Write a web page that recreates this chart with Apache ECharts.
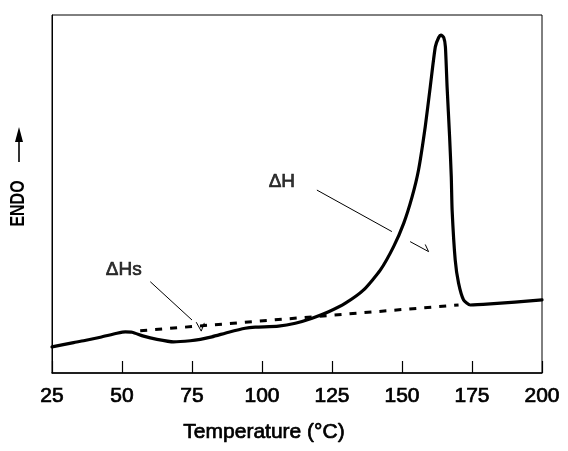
<!DOCTYPE html>
<html>
<head>
<meta charset="utf-8">
<script src="https://cdn.jsdelivr.net/npm/echarts@6/dist/echarts.min.js"></script>
<style>
html, body { margin: 0; padding: 0; background: #fff; }
#chart { width: 568px; height: 451px; }
</style>
</head>
<body>
<div id="chart"></div>
<script>
// Tick labels on the temperature axis
const tempTicks = [25, 50, 75, 100, 125, 150, 175, 200];

// DSC trace (temperature in °C, endothermic signal in arbitrary units)
const temperature = [25, 32.7, 36.3, 42.3, 48.2, 51.2, 53.6, 57.7, 62.5, 68.4, 74.4, 78.0, 82.1, 88.1, 94.0, 97.6, 105.9, 111.9, 117.9, 123.8, 129.8, 136.3, 142.3, 147.0, 150.6, 153.6, 155.9, 158.3, 160.1, 161.9, 163.1, 163.9, 164.9, 165.5, 166.1, 167.0, 167.6, 167.9, 169.0, 170.2, 172.0, 174.4, 181.5, 200];
const endo = [7.3, 8.5, 9.0, 10.0, 11.1, 11.5, 11.4, 10.3, 9.4, 8.7, 9.0, 9.4, 10.1, 11.4, 12.5, 12.8, 13.1, 13.9, 15.3, 17.1, 19.5, 23.2, 28.8, 35.3, 41.8, 49.2, 56.7, 68.8, 80.0, 91.1, 93.7, 94.4, 93.7, 91.1, 80.0, 66.0, 54.8, 45.5, 31.6, 25.1, 20.4, 19.0, 19.3, 20.4];

// Dashed integration baseline
const baselineT = [56.5, 170.2];
const baselineY = [11.8, 19.0];

// Annotation labels and their leader lines (data coordinates)
const labelNames = ['ΔH', 'ΔHs'];
const labelT = [107.1, 50.6];
const labelY = [53.4, 28.8];
const leaderHT = [119.6, 146.4];
const leaderHY = [51.1, 39.5];
const arrowHT = [152.9, 159.5, 158.3];
const arrowHY = [36.7, 33.9, 35.9];
const leaderHsT = [60.1, 75.0];
const leaderHsY = [25.5, 14.8];
const checkHsT = [76.5, 78.3, 79.4];
const checkHsY = [14.2, 11.7, 14.0];

const zip = (a, b) => a.map((v, i) => [v, b[i]]);
const FONT = 'Liberation Sans, Arial, Helvetica, sans-serif';
const THICK = { textBorderColor: '#000', textBorderWidth: 0.7 };

function thinLine(name, t, y) {
  return {
    name: name, type: 'line', data: zip(t, y), symbol: 'none', silent: true,
    lineStyle: { color: '#000', width: 1 }, z: 3
  };
}

const chart = echarts.init(document.getElementById('chart'), null, { renderer: 'canvas' });
chart.setOption({
  animation: false,
  backgroundColor: '#fff',
  grid: { left: 52, right: 26, top: 15, bottom: 78, show: true, borderColor: '#000', borderWidth: 1, backgroundColor: 'transparent' },
  xAxis: {
    type: 'value', min: 25, max: 200, interval: 25,
    name: 'Temperature (°C)', nameLocation: 'middle', nameGap: 49,
    nameTextStyle: Object.assign({ fontFamily: FONT, fontSize: 21, color: '#000', padding: [0, 66, 0, 0] }, THICK),
    axisLine: { show: true, lineStyle: { color: '#000', width: 1.5 } },
    axisTick: { show: true, inside: true, length: 12, lineStyle: { color: '#000', width: 1.2 } },
    axisLabel: Object.assign({ fontFamily: FONT, fontSize: 21, color: '#000', margin: 13,
      formatter: v => tempTicks.indexOf(v) >= 0 ? String(v) : '' }, THICK),
    splitLine: { show: false }
  },
  yAxis: {
    type: 'value', min: 0, max: 100,
    axisLine: { show: true, lineStyle: { color: '#000', width: 1 } },
    axisTick: { show: false }, axisLabel: { show: false }, splitLine: { show: false }
  },
  graphic: [
    { type: 'text', x: 18.5, y: 203.5, rotation: Math.PI / 2, scaleX: 0.8,
      style: { text: 'ENDO', fontFamily: FONT, fontSize: 20, fontWeight: 'bold', fill: '#000', align: 'center', verticalAlign: 'middle' } },
    { type: 'line', shape: { x1: 19, y1: 162, x2: 19, y2: 138 }, style: { stroke: '#000', lineWidth: 1.6 } },
    { type: 'polygon', shape: { points: [[19, 127], [15, 142], [23, 142]] }, style: { fill: '#000' } }
  ],
  series: [
    {
      name: 'DSC', type: 'line', data: zip(temperature, endo), symbol: 'none',
      smooth: 0.2,
      lineStyle: { color: '#000', width: 3.2, join: 'round', cap: 'round' }, z: 5
    },
    {
      name: 'Baseline', type: 'line', data: zip(baselineT, baselineY), symbol: 'none',
      lineStyle: { color: '#000', width: 3, type: [7, 8] }, z: 4
    },
    thinLine('leaderH', leaderHT, leaderHY),
    thinLine('arrowH', arrowHT, arrowHY),
    thinLine('leaderHs', leaderHsT, leaderHsY),
    thinLine('checkHs', checkHsT, checkHsY),
    {
      name: 'labels', type: 'scatter', symbolSize: 0, silent: true,
      data: labelNames.map((n, i) => ({ name: n, value: [labelT[i], labelY[i]] })),
      label: Object.assign({ show: true, position: 'inside', formatter: p => p.name,
        fontFamily: FONT, fontSize: 19, color: '#000' }, THICK)
    }
  ]
});
</script>
</body>
</html>
